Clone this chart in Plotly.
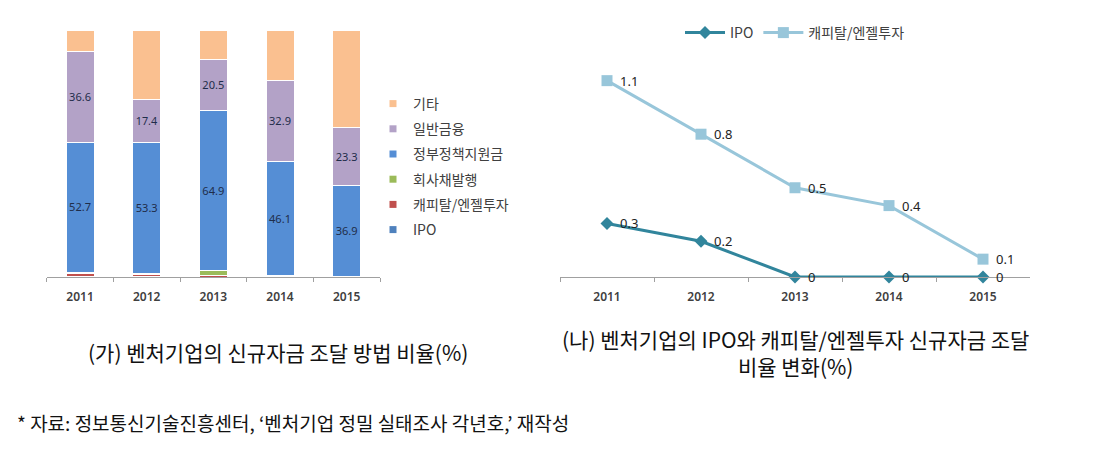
import plotly.graph_objects as go

years = ["2011", "2012", "2013", "2014", "2015"]

# Left chart: share of new funding by method (%)
ipo_share = [0.3, 0.2, 0.0, 0.0, 0.0]
capital_share = [1.1, 0.8, 0.5, 0.4, 0.1]
bond_share = [0.5, 0.3, 2.0, 0.3, 0.2]
gov_share = [52.7, 53.3, 64.9, 46.1, 36.9]
fin_share = [36.6, 17.4, 20.5, 32.9, 23.3]
etc_share = [8.8, 28.0, 12.1, 20.3, 39.5]

# Right chart: IPO and capital/angel investment ratio (%)
ipo_line = [0.3, 0.2, 0, 0, 0]
capital_line = [1.1, 0.8, 0.5, 0.4, 0.1]

OFF = 8  # page body margin
W, H = 1094 - 2 * OFF, 457 - 2 * OFF
FONT = "Noto Sans CJK KR, Noto Sans, sans-serif"
NUMFONT = "Noto Sans, sans-serif"


def px(x):
    return (x - OFF) / W


def py(y):
    return 1 - (y - OFF) / H


fig = go.Figure()

bar_series = [
    ("IPO", ipo_share, "#4F81BD", False),
    ("캐피탈/엔젤투자", capital_share, "#C0504D", False),
    ("회사채발행", bond_share, "#9BBB59", False),
    ("정부정책지원금", gov_share, "#558ED5", True),
    ("일반금융", fin_share, "#B3A2C7", True),
    ("기타", etc_share, "#FAC090", False),
]
n = len(bar_series)
for i, (name, vals, col, lab) in enumerate(bar_series):
    fig.add_trace(go.Bar(
        x=years, y=vals, name=name, marker=dict(color=col, line=dict(color="white", width=1)),
        width=0.42, xaxis="x", yaxis="y", showlegend=False,
        text=[f"{v:.1f}" for v in vals] if lab else None,
        textposition="inside" if lab else "none", insidetextanchor="middle",
        textangle=0, textfont=dict(family=NUMFONT, size=13, color="#1F2D4A"),
        hoverinfo="skip",
    ))
    # small square legend key, as in the original
    fig.add_trace(go.Scatter(
        x=[None], y=[None], name=name, mode="markers",
        marker=dict(symbol="square", size=7, color=col),
        xaxis="x", yaxis="y", legend="legend", legendgroup=f"g{i}", legendrank=n - i,
    ))

fig.add_trace(go.Scatter(
    x=years, y=ipo_line, name="IPO", mode="lines+markers",
    line=dict(color="#31859C", width=3), marker=dict(symbol="diamond", size=10, color="#31859C"),
    xaxis="x2", yaxis="y2", legend="legend2", cliponaxis=False,
))
fig.add_trace(go.Scatter(
    x=years, y=capital_line, name="캐피탈/엔젤투자", mode="lines+markers",
    line=dict(color="#98C6DA", width=3), marker=dict(symbol="square", size=11, color="#98C6DA"),
    xaxis="x2", yaxis="y2", legend="legend2", cliponaxis=False,
))

annotations = []
for series in (ipo_line, capital_line):
    for idx, v in enumerate(series):
        annotations.append(dict(
            x=idx, y=v, xref="x2", yref="y2", text=str(v), showarrow=False,
            xanchor="left", yanchor="middle", xshift=11,
            font=dict(family=NUMFONT, size=13, color="#222")))

axis_common = dict(type="category", categoryorder="array", categoryarray=years,
                   tickson="boundaries", ticks="outside", ticklen=4,
                   tickcolor="#A0A0A0", showline=True, linecolor="#A0A0A0", linewidth=1,
                   showgrid=False, zeroline=False, ticklabelstandoff=9,
                   tickfont=dict(family=NUMFONT, size=12, color="#404040", weight=600))

annotations += [
    dict(text="(가) 벤처기업의 신규자금 조달 방법 비율(%)", x=px(278), y=py(352),
         xref="paper", yref="paper", showarrow=False, xanchor="center", yanchor="middle",
         font=dict(family=FONT, size=21, color="#111")),
    dict(text="(나) 벤처기업의 IPO와 캐피탈/엔젤투자 신규자금 조달<br>비율 변화(%)",
         x=px(795), y=py(352), xref="paper", yref="paper", showarrow=False,
         xanchor="center", yanchor="middle", align="center",
         font=dict(family=FONT, size=21, color="#111")),
    dict(text="* 자료: 정보통신기술진흥센터, ‘벤처기업 정밀 실태조사 각년호,’ 재작성",
         x=px(15), y=py(422), xref="paper", yref="paper", showarrow=False,
         xanchor="left", yanchor="middle",
         font=dict(family=FONT, size=19, color="#111")),
]

fig.update_layout(
    width=W, height=H, margin=dict(l=0, r=0, t=0, b=0),
    paper_bgcolor="white", plot_bgcolor="white",
    barmode="stack", showlegend=True,
    xaxis=dict(domain=[px(46.7), px(380)], anchor="y", range=[-0.5, 4.5], **axis_common),
    yaxis=dict(domain=[py(277), py(30)], range=[0, 100], visible=False, anchor="x"),
    xaxis2=dict(domain=[px(560), px(1030)], anchor="y2", range=[-0.5, 4.5], **axis_common),
    yaxis2=dict(domain=[py(277), py(62.8)], range=[0, 1.2], visible=False, anchor="x2"),
    legend=dict(x=px(373), y=py(88), xanchor="left", yanchor="top",
                traceorder="grouped", tracegroupgap=4,
                font=dict(family=FONT, size=14, color="#404040"), bgcolor="rgba(0,0,0,0)",
                itemwidth=30),
    legend2=dict(x=px(795), y=py(33), xanchor="center", yanchor="middle",
                 orientation="h", font=dict(family=FONT, size=14, color="#404040"),
                 bgcolor="rgba(0,0,0,0)", itemwidth=40),
    annotations=annotations,
)

fig.write_html("out.html")
